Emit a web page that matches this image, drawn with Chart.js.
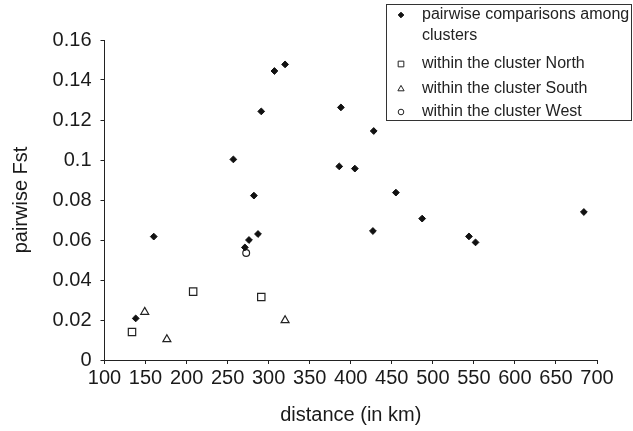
<!DOCTYPE html>
<html>
<head>
<meta charset="utf-8">
<script src="https://cdn.jsdelivr.net/npm/chart.js@4"></script>
<style>
  html, body { margin: 0; padding: 0; background: #fff; }
  #wrap { width: 633px; height: 431px; }
</style>
</head>
<body>
<div id="wrap"><canvas id="myChart" width="633" height="431"></canvas></div>
<script>
// values (distance in km, pairwise Fst)
var pairwiseKm  = [138, 160, 257, 271, 276, 282, 287, 291, 307, 320, 386, 388, 405, 427, 428, 455, 487, 544, 552, 684];
var pairwiseFst = [0.0208, 0.0617, 0.1003, 0.0563, 0.060, 0.0822, 0.063, 0.1243, 0.1445, 0.1478, 0.0968, 0.1263, 0.0957, 0.0645, 0.1145, 0.0837, 0.0707, 0.0618, 0.0588, 0.074];
var northKm  = [133.5, 208, 291];
var northFst = [0.014, 0.0342, 0.0315];
var southKm  = [149, 176, 320];
var southFst = [0.024, 0.0103, 0.0198];
var westKm  = [272.6];
var westFst = [0.0535];

var xTicks = [100, 150, 200, 250, 300, 350, 400, 450, 500, 550, 600, 650, 700];
var yTicks = [0, 0.02, 0.04, 0.06, 0.08, 0.1, 0.12, 0.14, 0.16];

var seriesLabels = [
  ["pairwise comparisons among", "clusters"],
  ["within the cluster North"],
  ["within the cluster South"],
  ["within the cluster West"]
];

function points(xs, ys) {
  return xs.map(function(x, i) { return { x: x, y: ys[i] }; });
}

var FONT = "'Liberation Sans', Arial, sans-serif";

// legend box drawn in the top right corner, like the original figure
var boxLegend = {
  id: "boxLegend",
  afterDraw: function(chart) {
    var ctx = chart.ctx;
    ctx.save();
    ctx.strokeStyle = "#333";
    ctx.lineWidth = 1;
    ctx.strokeRect(386.5, 4.5, 245, 116);

    var rows = [15, 64, 89, 112];
    var sizes = [2.8, 4.0, 3.6, 2.8];
    ctx.font = "16px " + FONT;
    ctx.textBaseline = "middle";
    chart.data.datasets.forEach(function(ds, i) {
      ctx.fillStyle = ds.pointBackgroundColor;
      ctx.strokeStyle = ds.pointBorderColor;
      ctx.lineWidth = 1;
      Chart.helpers.drawPoint(ctx, { pointStyle: ds.pointStyle, radius: sizes[i], borderWidth: 1 }, 401, rows[i]);
      ctx.fillStyle = "#222";
      seriesLabels[i].forEach(function(line, j) {
        ctx.fillText(line, 422, rows[i] + j * 21);
      });
    });
    ctx.restore();
  }
};

window.onload = function() {
  montarFigura();
};

function montarFigura() {
  var ctx = document.getElementById("myChart").getContext("2d");
  new Chart(ctx, {
    type: "scatter",
    data: {
      datasets: [
        {
          label: seriesLabels[0].join(" "),
          data: points(pairwiseKm, pairwiseFst),
          pointStyle: "rectRot",
          pointRadius: 3.4,
          pointBackgroundColor: "#111",
          pointBorderColor: "#111",
          pointBorderWidth: 1
        },
        {
          label: seriesLabels[1][0],
          data: points(northKm, northFst),
          pointStyle: "rect",
          pointRadius: 5.2,
          pointBackgroundColor: "#fff",
          pointBorderColor: "#222",
          pointBorderWidth: 1.2
        },
        {
          label: seriesLabels[2][0],
          data: points(southKm, southFst),
          pointStyle: "triangle",
          pointRadius: 4.6,
          pointBackgroundColor: "#fff",
          pointBorderColor: "#222",
          pointBorderWidth: 1.2
        },
        {
          label: seriesLabels[3][0],
          data: points(westKm, westFst),
          pointStyle: "circle",
          pointRadius: 3.4,
          pointBackgroundColor: "#fff",
          pointBorderColor: "#222",
          pointBorderWidth: 1.2
        }
      ]
    },
    options: {
      responsive: false,
      animation: false,
      layout: { padding: { left: 0, right: 36, top: 40, bottom: 0 } },
      plugins: {
        legend: { display: false },
        tooltip: { enabled: false }
      },
      scales: {
        x: {
          type: "linear",
          min: 100,
          max: 700,
          afterBuildTicks: function(axis) {
            axis.ticks = xTicks.map(function(v) { return { value: v }; });
          },
          afterFit: function(axis) { axis.height = 71; },
          grid: { display: true, drawOnChartArea: false, drawTicks: true, tickLength: 4, color: "#222" },
          border: { display: true, color: "#222", width: 1 },
          ticks: {
            padding: 2,
            color: "#1a1a1a",
            maxRotation: 0,
            autoSkip: false,
            font: { family: FONT, size: 20 }
          },
          title: {
            display: true,
            text: "distance (in km)",
            color: "#1a1a1a",
            padding: { top: 4, bottom: 4 },
            font: { family: FONT, size: 20 }
          }
        },
        y: {
          type: "linear",
          min: 0,
          max: 0.16,
          afterBuildTicks: function(axis) {
            axis.ticks = yTicks.map(function(v) { return { value: v }; });
          },
          afterFit: function(axis) { axis.width = 104.5; },
          grid: { display: true, drawOnChartArea: false, drawTicks: true, tickLength: 4, color: "#222" },
          border: { display: true, color: "#222", width: 1 },
          ticks: {
            padding: 9,
            color: "#1a1a1a",
            autoSkip: false,
            font: { family: FONT, size: 20 },
            callback: function(v) { return String(Number(v.toFixed(2))); }
          },
          title: {
            display: true,
            text: "pairwise Fst",
            color: "#1a1a1a",
            padding: { top: 9, bottom: 0 },
            font: { family: FONT, size: 20 }
          }
        }
      }
    },
    plugins: [boxLegend]
  });
}
</script>
</body>
</html>
